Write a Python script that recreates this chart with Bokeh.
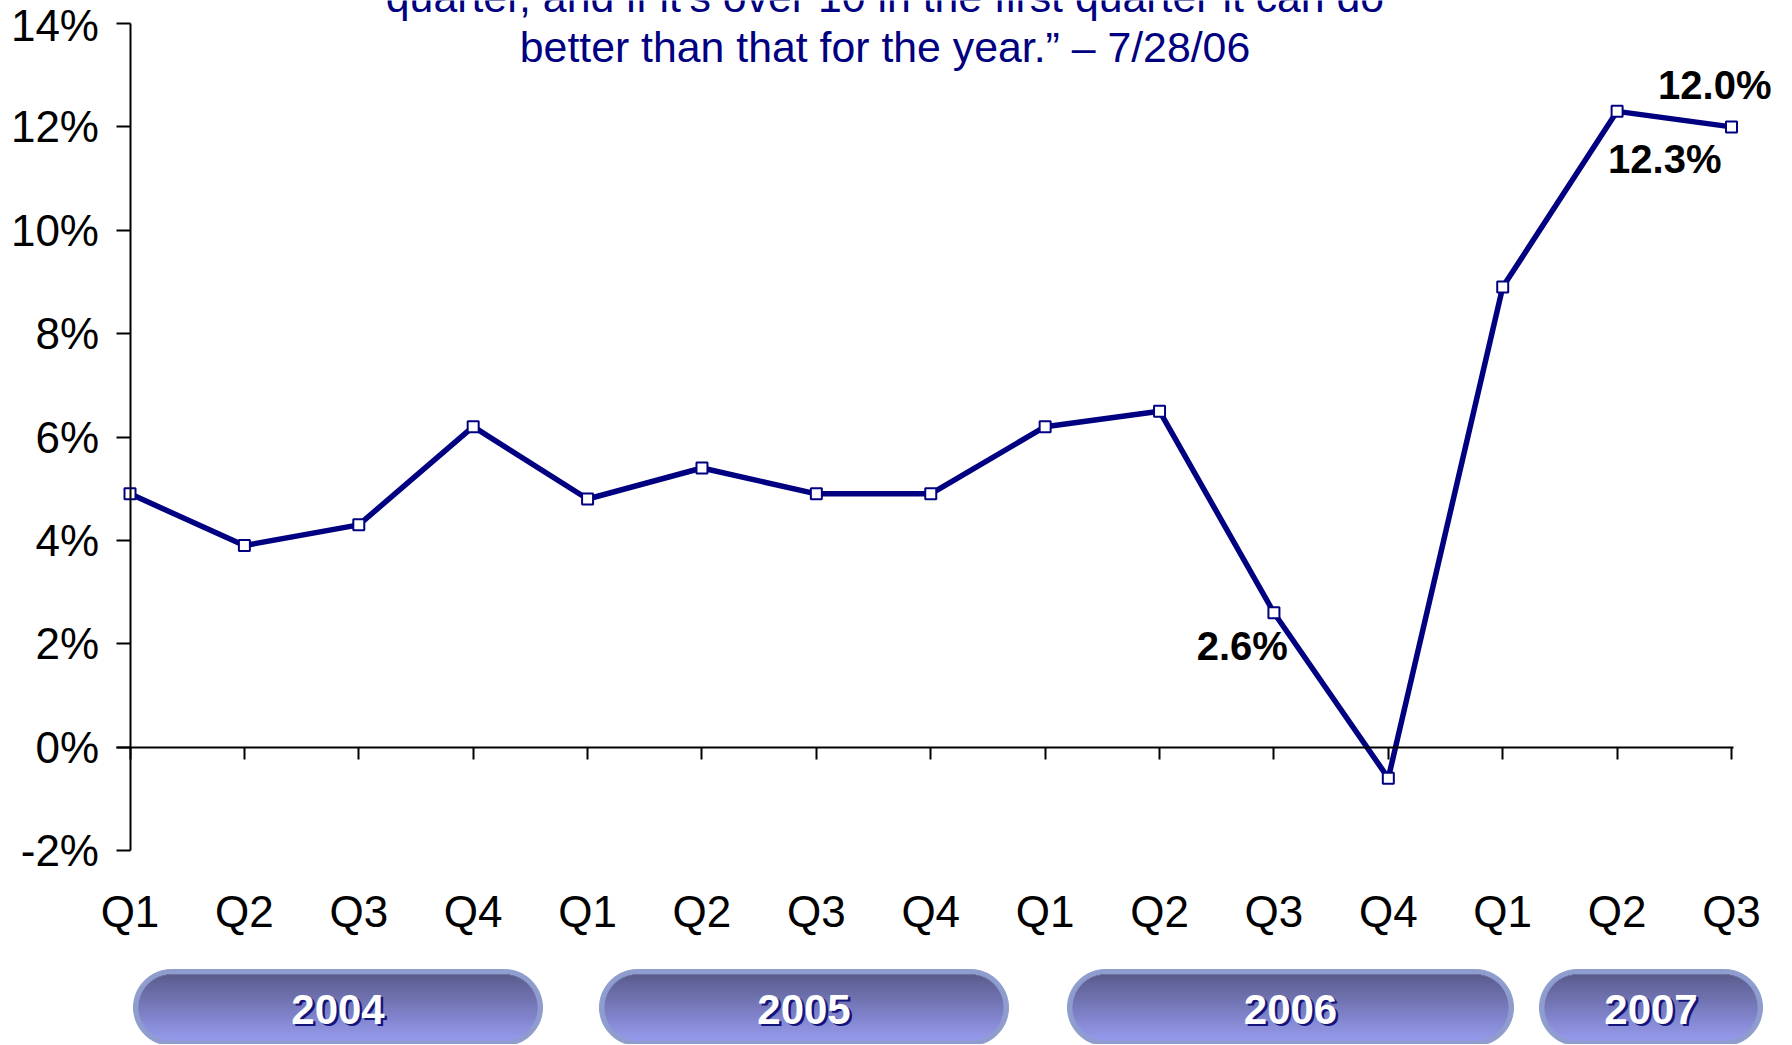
import numpy as np
from bokeh.plotting import figure
from bokeh.models import Range1d, LinearAxis, FixedTicker, PrintfTickFormatter
from bokeh.layouts import column
from bokeh.embed import file_html
from bokeh.resources import INLINE
from bokeh.core.properties import value

# ---------------- data ----------------
quarters = ["Q1", "Q2", "Q3", "Q4", "Q1", "Q2", "Q3", "Q4",
            "Q1", "Q2", "Q3", "Q4", "Q1", "Q2", "Q3"]
years = ["2004", "2005", "2006", "2007"]
growth = [4.9, 3.9, 4.3, 6.2, 4.8, 5.4, 4.9, 4.9,
          6.2, 6.5, 2.6, -0.6, 8.9, 12.3, 12.0]
y_ticks = [-2, 0, 2, 4, 6, 8, 10, 12, 14]
labelled_points = [10, 13, 14]
title_lines = ["quarter, and if it\u2019s over 10 in the first quarter it can do",
               "better than that for the year.\u201d \u2013 7/28/06"]

# ---------------- styles / layout ----------------
NAVY = "#000080"
FONT = "Liberation Sans"
BORDER = "#8f9dce"
GRAD_TOP = np.array([0x4a, 0x48, 0x78])
GRAD_BOT = np.array([0x9a, 0x9a, 0xf8])
SHADOW = "#14147a"
W, H_MAIN, H_PILL = 1792, 960, 84
# label placement (text align, x offset px, y offset px)
label_style = {10: ("right", 14, 33), 13: ("left", -9, 48), 14: ("right", 40, -42)}
TITLE_X = 6.6
TITLE_Y = [14.51, 13.555]
# pill spans in page pixels
pill_spans = [(133, 542), (599, 1008), (1067, 1513), (1539, 1762)]
PILL_TOP, PILL_BOT = 969, 1045
PILL_TEXT_Y = 1008.5

# pixel mapping of the main frame (frame covers the whole canvas)
X0_PX, X_SCALE = 129.5, 114.393     # px of x=0, px per quarter
Y14_PX, Y_SCALE = 23.0, 51.6875     # px of y=14, px per percent
x_start = -X0_PX / X_SCALE
x_end = x_start + W / X_SCALE
y_end = 14 + Y14_PX / Y_SCALE
y_start = y_end - H_MAIN / Y_SCALE

x = list(range(len(growth)))

p = figure(width=W, height=H_MAIN,
           x_range=Range1d(x_start, x_end), y_range=Range1d(y_start, y_end),
           output_backend="svg", toolbar_location=None,
           x_axis_location=None, y_axis_location=None, min_border=0)
p.outline_line_color = None
p.grid.visible = False

yax = LinearAxis(fixed_location=0, bounds=(-2, 14), ticker=FixedTicker(ticks=y_ticks),
                 formatter=PrintfTickFormatter(format="%d%%"),
                 major_tick_in=0, major_tick_out=14, minor_tick_line_color=None,
                 axis_line_width=2, major_tick_line_width=2,
                 major_label_standoff=17, major_label_text_font_size="44px",
                 major_label_text_font=FONT, major_label_text_color="black")
p.add_layout(yax, "left")

zax = LinearAxis(fixed_location=0, bounds=(-0.118, 14.02), ticker=FixedTicker(ticks=x),
                 major_tick_in=0, major_tick_out=12, minor_tick_line_color=None,
                 axis_line_width=2, major_tick_line_width=2,
                 major_label_text_alpha=0, major_label_text_font_size="1px")
p.add_layout(zax, "below")

qax = LinearAxis(fixed_location=-2, ticker=FixedTicker(ticks=x),
                 major_label_overrides={i: q for i, q in enumerate(quarters)},
                 axis_line_color=None, major_tick_line_color=None,
                 major_tick_in=0, major_tick_out=0, minor_tick_line_color=None,
                 major_label_standoff=36, major_label_text_font_size="44px",
                 major_label_text_font=FONT, major_label_text_color="black")
p.add_layout(qax, "below")

p.text(x=[TITLE_X] * len(title_lines), y=TITLE_Y, text=title_lines,
       text_align="center", text_baseline="middle",
       text_font=value(FONT), text_font_size="42.8px", text_color=NAVY)

p.line(x, growth, line_color=NAVY, line_width=5.5)
p.scatter(x, growth, marker="square", size=11, fill_color="white",
          line_color=NAVY, line_width=2)

for i in labelled_points:
    align, dx, dy = label_style[i]
    p.text(x=[x[i]], y=[growth[i]], text=[f"{growth[i]:.1f}%"],
           text_align=align, text_baseline="middle",
           x_offset=dx, y_offset=dy,
           text_font=value(FONT), text_font_style="bold",
           text_font_size="40px", text_color="black")

# ---------------- year pills ----------------
q = figure(width=W, height=H_PILL, x_range=Range1d(0, W),
           y_range=Range1d(H_MAIN + H_PILL, H_MAIN),
           output_backend="svg", toolbar_location=None,
           x_axis_location=None, y_axis_location=None, min_border=0)
q.outline_line_color = None
q.grid.visible = False

r = (PILL_BOT - PILL_TOP) / 2.0
yc = (PILL_TOP + PILL_BOT) / 2.0
outer_xs, outer_ys = [], []
lefts, rights, tops, bots, cols = [], [], [], [], []
inset = 5
th = np.linspace(-np.pi / 2, np.pi / 2, 40)
for (x0, x1) in pill_spans:
    cx = (x0 + x1) / 2.0
    half = (x1 - x0) / 2.0
    rx = cx + half - r + r * np.cos(th)
    ry = yc + r * np.sin(th)
    lx = cx - half + r - r * np.cos(th[::-1])
    ly = yc + r * np.sin(th[::-1])
    outer_xs.append(list(rx) + list(lx))
    outer_ys.append(list(ry) + list(ly))
    ri = r - inset
    for yy in range(int(PILL_TOP + inset), int(PILL_BOT - inset)):
        dy = abs(yy + 0.5 - yc)
        if dy >= ri:
            continue
        hw = half - r + np.sqrt(ri * ri - dy * dy)
        t = (yy - (PILL_TOP + inset)) / (PILL_BOT - PILL_TOP - 2 * inset)
        c = (GRAD_TOP + (GRAD_BOT - GRAD_TOP) * t).astype(int)
        lefts.append(cx - hw)
        rights.append(cx + hw)
        tops.append(yy)
        bots.append(yy + 1.05)
        cols.append("#%02x%02x%02x" % tuple(c))

q.patches(outer_xs, outer_ys, fill_color=BORDER, line_color=BORDER, line_width=1)
q.quad(left=lefts, right=rights, top=tops, bottom=bots, fill_color=cols, line_color=None)

centers = [(a + b) / 2.0 for a, b in pill_spans]
q.text(x=[c + 2.5 for c in centers], y=[PILL_TEXT_Y + 2.5] * len(years), text=years,
       text_align="center", text_baseline="middle", text_font=value(FONT),
       text_font_style="bold", text_font_size="42px", text_color=SHADOW)
q.text(x=centers, y=[PILL_TEXT_Y] * len(years), text=years,
       text_align="center", text_baseline="middle", text_font=value(FONT),
       text_font_style="bold", text_font_size="42px", text_color="white")

layout = column(p, q, spacing=0)
open("out.html", "w").write(file_html(layout, INLINE))
